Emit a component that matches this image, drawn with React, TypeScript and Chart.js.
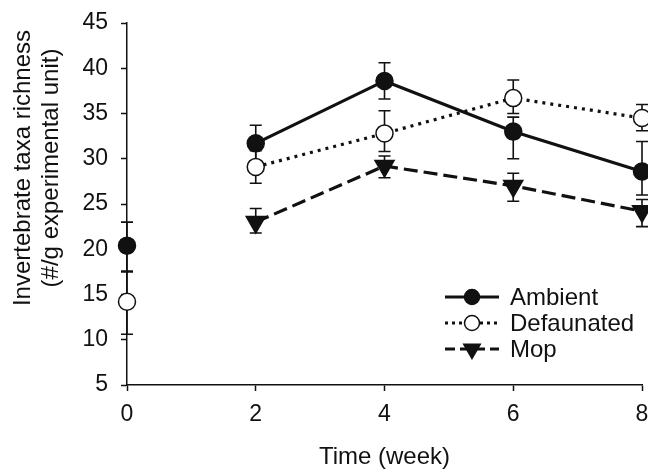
import React, { useEffect, useRef } from 'react';
import { Chart, registerables } from 'chart.js';

Chart.register(...registerables);

// ---- data ----
const weeks = [0, 2, 4, 6, 8];
const yTickValues = [5, 10, 15, 20, 25, 30, 35, 40, 45];

const ambient = [20.4, 31.7, 38.6, 33.0, 28.6];
const ambientUpper = [23.0, 33.7, 40.6, 34.6, 31.9];
const ambientLower = [17.6, 29.7, 36.6, 30.0, 26.0];

const defaunated = [14.2, 29.1, 32.8, 36.7, 34.5];
const defaunatedUpper = [17.5, 30.9, 35.3, 38.7, 36.0];
const defaunatedLower = [10.6, 27.3, 30.8, 35.0, 33.1];

const mop = [null, 23.0, 29.2, 27.0, 24.2];
const mopUpper = [null, 24.5, 30.3, 28.4, 25.5];
const mopLower = [null, 21.8, 27.9, 25.3, 22.5];

const seriesNames = ['Ambient', 'Defaunated', 'Mop'];
const xTitle = 'Time (week)';
const yTitle = ['Invertebrate taxa richness', '(#/g experimental unit)'];

const FONT = "'Liberation Sans', Arial, Helvetica, sans-serif";
const INK = '#111111';

type Style = { dash: number[]; fill: string; shape: 'circle' | 'tri'; r: number };
const styles: Style[] = [
  { dash: [], fill: INK, shape: 'circle', r: 8.5 },
  { dash: [3, 5], fill: '#ffffff', shape: 'circle', r: 8.5 },
  { dash: [14, 6], fill: INK, shape: 'tri', r: 11 },
];

function drawMarker(ctx: CanvasRenderingContext2D, s: Style, x: number, y: number, r: number) {
  ctx.save();
  ctx.setLineDash([]);
  ctx.beginPath();
  if (s.shape === 'circle') {
    ctx.arc(x, y, r, 0, Math.PI * 2);
  } else {
    ctx.moveTo(x, y + r);
    ctx.lineTo(x - r * Math.sin(Math.PI / 3), y - r * 0.5);
    ctx.lineTo(x + r * Math.sin(Math.PI / 3), y - r * 0.5);
    ctx.closePath();
  }
  ctx.fillStyle = s.fill;
  ctx.fill();
  ctx.lineWidth = 1.5;
  ctx.strokeStyle = INK;
  ctx.stroke();
  ctx.restore();
}

const errorBarPlugin = {
  id: 'errorBars',
  beforeDatasetsDraw(chart: any) {
    const ctx = chart.ctx as CanvasRenderingContext2D;
    const xs = chart.scales.x;
    const ys = chart.scales.y;
    ctx.save();
    ctx.strokeStyle = INK;
    ctx.lineWidth = 1.6;
    ctx.setLineDash([]);
    chart.data.datasets.forEach((ds: any) => {
      const up: (number | null)[] = ds.errUpper;
      const lo: (number | null)[] = ds.errLower;
      ds.data.forEach((pt: any, i: number) => {
        if (!pt || pt.y == null || up[i] == null || lo[i] == null) return;
        const px = xs.getPixelForValue(pt.x);
        const pu = ys.getPixelForValue(up[i] as number);
        const pl = ys.getPixelForValue(lo[i] as number);
        ctx.beginPath();
        ctx.moveTo(px, pu);
        ctx.lineTo(px, pl);
        ctx.moveTo(px - 6, pu);
        ctx.lineTo(px + 6, pu);
        ctx.moveTo(px - 6, pl);
        ctx.lineTo(px + 6, pl);
        ctx.stroke();
      });
    });
    ctx.restore();
  },
};

const yTitlePlugin = {
  id: 'yTitle',
  afterDraw(chart: any) {
    const ctx = chart.ctx as CanvasRenderingContext2D;
    const cy = 168;
    const xs = [23, 51];
    ctx.save();
    ctx.fillStyle = INK;
    ctx.font = `24px ${FONT}`;
    ctx.textAlign = 'center';
    ctx.textBaseline = 'middle';
    yTitle.forEach((line, i) => {
      ctx.save();
      ctx.translate(xs[i], cy);
      ctx.rotate(-Math.PI / 2);
      ctx.fillText(line, 0, 0);
      ctx.restore();
    });
    ctx.restore();
  },
};

const legendPlugin = {
  id: 'customLegend',
  afterDraw(chart: any) {
    const ctx = chart.ctx as CanvasRenderingContext2D;
    const rows = [297, 323, 349];
    ctx.save();
    seriesNames.forEach((name, i) => {
      const s = styles[i];
      const y = rows[i];
      ctx.beginPath();
      ctx.setLineDash(s.dash.length ? (i === 1 ? [3, 4] : [10, 5]) : []);
      ctx.lineWidth = 3;
      ctx.strokeStyle = INK;
      ctx.moveTo(445, y);
      ctx.lineTo(499, y);
      ctx.stroke();
      drawMarker(ctx, s, 472, y, s.shape === 'tri' ? 9.5 : 7.5);
      ctx.setLineDash([]);
      ctx.fillStyle = INK;
      ctx.font = `24px ${FONT}`;
      ctx.textBaseline = 'middle';
      ctx.textAlign = 'left';
      ctx.fillText(name, 510, y + 1);
    });
    ctx.restore();
  },
};

function makeData(vals: (number | null)[]) {
  return weeks.map((w, i) => ({ x: w, y: vals[i] }));
}

export default function App() {
  const ref = useRef<HTMLCanvasElement | null>(null);
  useEffect(() => {
    if (!ref.current) return;
    const valueSets = [ambient, defaunated, mop];
    const uppers = [ambientUpper, defaunatedUpper, mopUpper];
    const lowers = [ambientLower, defaunatedLower, mopLower];
    const datasets: any[] = seriesNames.map((name, i) => {
      const s = styles[i];
      return {
        label: name,
        data: makeData(valueSets[i]),
        errUpper: uppers[i],
        errLower: lowers[i],
        borderColor: INK,
        borderWidth: 3.2,
        borderDash: s.dash,
        backgroundColor: s.fill,
        pointBackgroundColor: s.fill,
        pointBorderColor: INK,
        pointBorderWidth: 1.5,
        pointRadius: s.r,
        pointStyle: s.shape === 'tri' ? 'triangle' : 'circle',
        pointRotation: s.shape === 'tri' ? 180 : 0,
        spanGaps: false,
        showLine: true,
        fill: false,
        tension: 0,
        clip: false,
        segment: {
          borderDash: (ctx: any) => (ctx.p0.parsed.x === 0 ? [0, 1000] : s.dash),
        },
      };
    });
    const chart = new Chart(ref.current, {
      type: 'line',
      data: { datasets },
      plugins: [errorBarPlugin, legendPlugin, yTitlePlugin],
      options: {
        animation: false,
        responsive: false,
        events: [],
        layout: { autoPadding: false, padding: { top: 23, right: 6, left: 0, bottom: 0 } },
        plugins: { legend: { display: false }, tooltip: { enabled: false } },
        scales: {
          x: {
            type: 'linear',
            min: 0,
            max: 8,
            afterFit: (s: any) => { s.height = 87; s.paddingRight = 0; s.paddingLeft = 0; },
            afterBuildTicks: (s: any) => { s.ticks = weeks.map((v) => ({ value: v })); },
            border: { color: INK, width: 1.5 },
            grid: { drawOnChartArea: false, drawTicks: true, tickLength: 6, color: INK, tickWidth: 1.5 },
            ticks: { color: INK, font: { family: FONT, size: 23 }, padding: 10 },
            title: {
              display: true,
              text: xTitle,
              color: INK,
              font: { family: FONT, size: 24 },
              padding: { top: 0, bottom: 0 },
            },
          },
          y: {
            type: 'linear',
            min: 5,
            max: 45,
            afterFit: (s: any) => { s.width = 127; s.paddingTop = 0; s.paddingBottom = 0; },
            afterBuildTicks: (s: any) => { s.ticks = yTickValues.map((v) => ({ value: v })); },
            border: { color: INK, width: 1.5 },
            grid: { drawOnChartArea: false, drawTicks: true, tickLength: 6, color: INK, tickWidth: 1.5 },
            ticks: { color: INK, font: { family: FONT, size: 23 }, padding: 13 },
            title: { display: false },
          },
        },
      } as any,
    });
    return () => chart.destroy();
  }, []);
  return (
    <div style={{ position: 'fixed', left: 0, top: 0, width: 648, height: 472, background: '#fff' }}>
      <canvas ref={ref} width={648} height={472} />
    </div>
  );
}
